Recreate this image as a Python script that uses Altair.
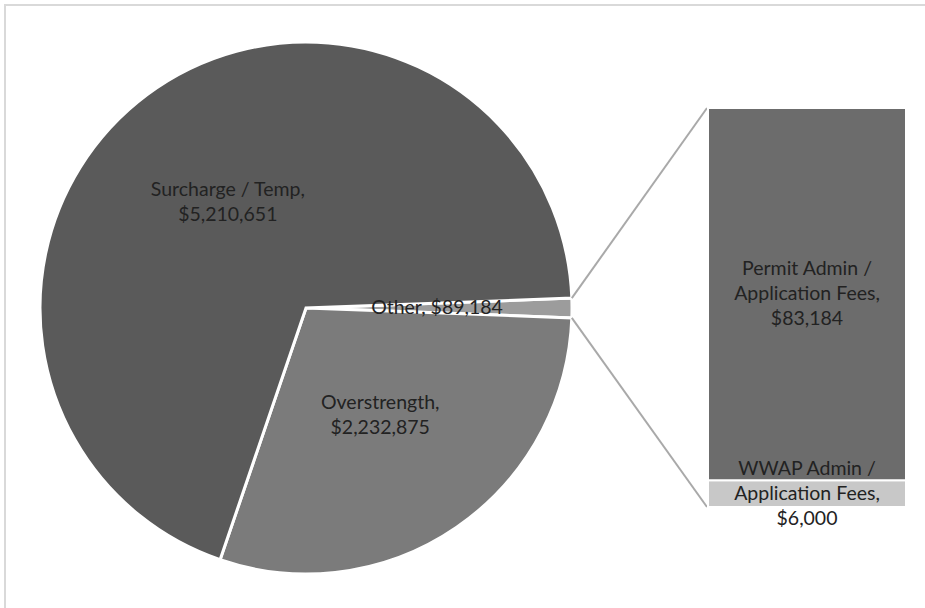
import math
import altair as alt
import pandas as pd

# Pie slices (main breakdown)
pie_labels = ["Other, $89,184", "Overstrength,\n$2,232,875", "Surcharge / Temp,\n$5,210,651"]
pie_values = [89184, 2232875, 5210651]
pie_colors = ["#9c9c9c", "#7b7b7b", "#5a5a5a"]

# Bar breakdown of the "Other" slice (bottom to top)
bar_labels = ["WWAP Admin /\nApplication Fees,\n$6,000", "Permit Admin /\nApplication Fees,\n$83,184"]
bar_values = [6000, 83184]
bar_colors = ["#c8c8c8", "#6c6c6c"]

FONT = "Lato"
FONT_SIZE = 19.5
LINE_H = 25
TEXT_COLOR = "#222222"

# Layout geometry (pixels)
W, H = 925, 608
CX, CY, R = 306, 308, 266
BAR_X0, BAR_X1 = 708, 906
BAR_TOP, BAR_BOTTOM = 108, 507

total = sum(pie_values)
other_share = pie_values[0] / total
# "Other" slice is centred on the 3 o'clock direction
start = math.pi / 2 - other_share * math.pi
theta_range = [start, start + 2 * math.pi]

pie_df = pd.DataFrame({
    "label": pie_labels,
    "value": pie_values,
    "color": pie_colors,
    "idx": list(range(len(pie_values))),
})

bar_df = pd.DataFrame({
    "label": bar_labels,
    "value": bar_values,
    "color": bar_colors,
    "idx": list(range(len(bar_values))),
})

theta_enc = alt.Theta("value:Q", stack=True, scale=alt.Scale(range=theta_range))

pie = alt.Chart(pie_df).mark_arc(
    outerRadius=R, stroke="white", strokeWidth=3
).encode(
    theta=theta_enc,
    order=alt.Order("idx:Q"),
    color=alt.Color("color:N", scale=None),
    x=alt.value(CX),
    y=alt.value(CY),
)


def pie_label_layer(multiline):
    # Two-line labels are lifted by half a line so the block is centred on the slice
    test = "indexof(datum.label, '\\n') >= 0"
    expr = f"{test} ? datum.label : ''" if multiline else f"{test} ? '' : datum.label"
    return alt.Chart(pie_df).transform_calculate(t=expr).mark_text(
        radius=131, font=FONT, fontSize=FONT_SIZE, color=TEXT_COLOR,
        lineBreak="\n", lineHeight=LINE_H, align="center", baseline="middle",
        dy=-LINE_H / 2 if multiline else 0,
    ).encode(
        theta=theta_enc,
        order=alt.Order("idx:Q"),
        text="t:N",
        x=alt.value(CX),
        y=alt.value(CY),
    )


pie_text_multi = pie_label_layer(True)
pie_text_single = pie_label_layer(False)

y_scale = alt.Scale(domain=[0, sum(bar_values)], range=[BAR_BOTTOM, BAR_TOP])

bar = alt.Chart(bar_df).transform_stack(
    stack="value", groupby=[], as_=["lo", "hi"], sort=[alt.SortField("idx")]
).mark_bar(stroke="white", strokeWidth=2).encode(
    x=alt.value(BAR_X0),
    x2=alt.value(BAR_X1),
    y=alt.Y("lo:Q", scale=y_scale, axis=None),
    y2="hi:Q",
    color=alt.Color("color:N", scale=None),
)

# Three-line labels, centred on each segment
bar_text = alt.Chart(bar_df).transform_stack(
    stack="value", groupby=[], as_=["lo", "hi"], sort=[alt.SortField("idx")]
).transform_calculate(
    mid="(datum.lo + datum.hi) / 2"
).mark_text(
    font=FONT, fontSize=FONT_SIZE, color=TEXT_COLOR,
    lineBreak="\n", lineHeight=LINE_H, align="center", baseline="middle",
    dy=-LINE_H,
).encode(
    x=alt.value((BAR_X0 + BAR_X1) / 2),
    y=alt.Y("mid:Q", scale=y_scale, axis=None),
    text="label:N",
)

# Connector lines from the edges of the "Other" slice to the bar corners
a0 = start
a1 = start + other_share * 2 * math.pi
conn_df = pd.DataFrame({
    "x": [CX + R * math.sin(a0), CX + R * math.sin(a1)],
    "y": [CY - R * math.cos(a0), CY - R * math.cos(a1)],
    "x2": [BAR_X0 - 1, BAR_X0 - 1],
    "y2": [BAR_TOP, BAR_BOTTOM],
})

connectors = alt.Chart(conn_df).mark_rule(color="#a9a9a9", strokeWidth=2).encode(
    x=alt.X("x:Q", scale=None),
    y=alt.Y("y:Q", scale=None),
    x2="x2:Q",
    y2="y2:Q",
)

frame = alt.Chart(alt.Data(values=[{}])).mark_rect(
    filled=False, stroke="#d9d9d9", strokeWidth=2
).encode(
    x=alt.value(5), y=alt.value(5), x2=alt.value(W + 10), y2=alt.value(H + 10)
)

chart = alt.layer(
    frame, pie, pie_text_multi, pie_text_single, connectors, bar, bar_text
).resolve_scale(
    y="independent"
).properties(
    width=W, height=H, padding=0, autosize=alt.AutoSizeParams(type="none"),
    background="white",
).configure_view(stroke=None)

chart.save("out.html", embed_options={"renderer": "svg", "actions": False})
